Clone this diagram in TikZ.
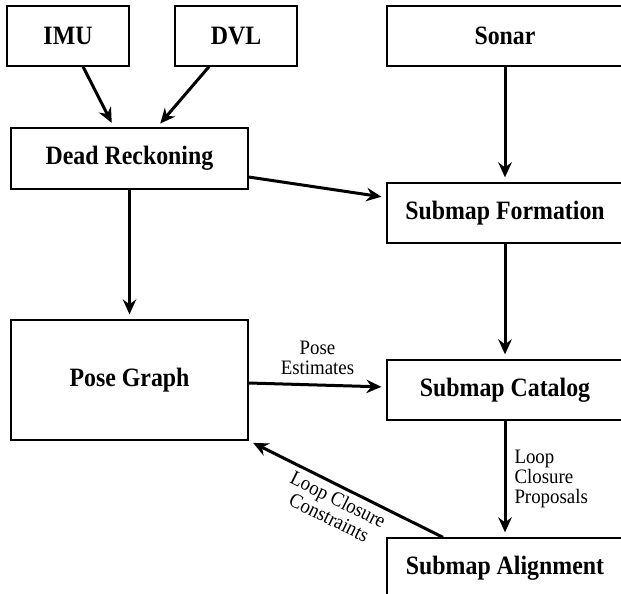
\documentclass[tikz,border=0pt]{standalone}
\usepackage{fontspec}
\setmainfont{Liberation Serif}
\newfontfamily\boxfont{Liberation Serif}[FakeStretch=0.9]
\newfontfamily\lblfont{Liberation Serif}[FakeStretch=0.92]
\usetikzlibrary{arrows.meta}
\begin{document}
\begin{tikzpicture}[x=1pt,y=-1pt,
 box/.style={draw, line width=1.3pt, inner sep=0pt, font=\boxfont\fontsize{26.5}{30}\selectfont\bfseries},
 arr/.style={line width=3pt, -{Stealth[length=15pt,width=13.5pt,inset=5pt]}, shorten >=5pt},
 lbl/.style={font=\lblfont\fontsize{20.5}{20}\selectfont, align=center, inner sep=3pt}]
\useasboundingbox (0,0) rectangle (621,594);
\clip (0,0) rectangle (621,594);
\node[box, minimum width=122pt, minimum height=60pt] (imu) at (68,36) {IMU};
\node[box, minimum width=122pt, minimum height=60pt] (dvl) at (236,36) {DVL};
\node[box, minimum width=236pt, minimum height=60pt] (sonar) at (505,36) {Sonar};
\node[box, minimum width=237pt, minimum height=61pt] (dr) at (129.5,158.5) {Dead Reckoning};
\node[box, minimum width=236pt, minimum height=60pt] (sf) at (505,213) {Submap Formation};
\node[box, minimum width=237pt, minimum height=120pt] (pg) at (129.5,380) {Pose Graph};
\node[box, minimum width=236pt, minimum height=60pt] (cat) at (505,390) {Submap Catalog};
\node[box, minimum width=236pt, minimum height=60pt] (al) at (505,568) {Submap Alignment};
\draw[arr] ([xshift=15pt]imu.south) -- ([xshift=-15.5pt]dr.north);
\draw[arr] ([xshift=-27pt]dvl.south) -- ([xshift=27.5pt]dr.north);
\draw[arr] (sonar.south) -- (sf.north);
\draw[arr] ([yshift=-18.5pt]dr.east) -- ([yshift=15.5pt]sf.west);
\draw[arr] (dr.south) -- (pg.north);
\draw[arr] (sf.south) -- (cat.north);
\draw[arr] ([yshift=-3pt]pg.east) -- node[lbl, above, yshift=6pt]{Pose\\Estimates} ([yshift=3pt]cat.west);
\draw[arr] (cat.south) -- node[lbl, right, align=left, xshift=5pt]{Loop\\Closure\\Proposals} (al.north);
\draw[arr] ([xshift=-62pt]al.north) -- node[lbl, sloped, below, pos=0.51, yshift=-1pt]{Loop Closure\\Constraints} (pg.south east);
\end{tikzpicture}
\end{document}
